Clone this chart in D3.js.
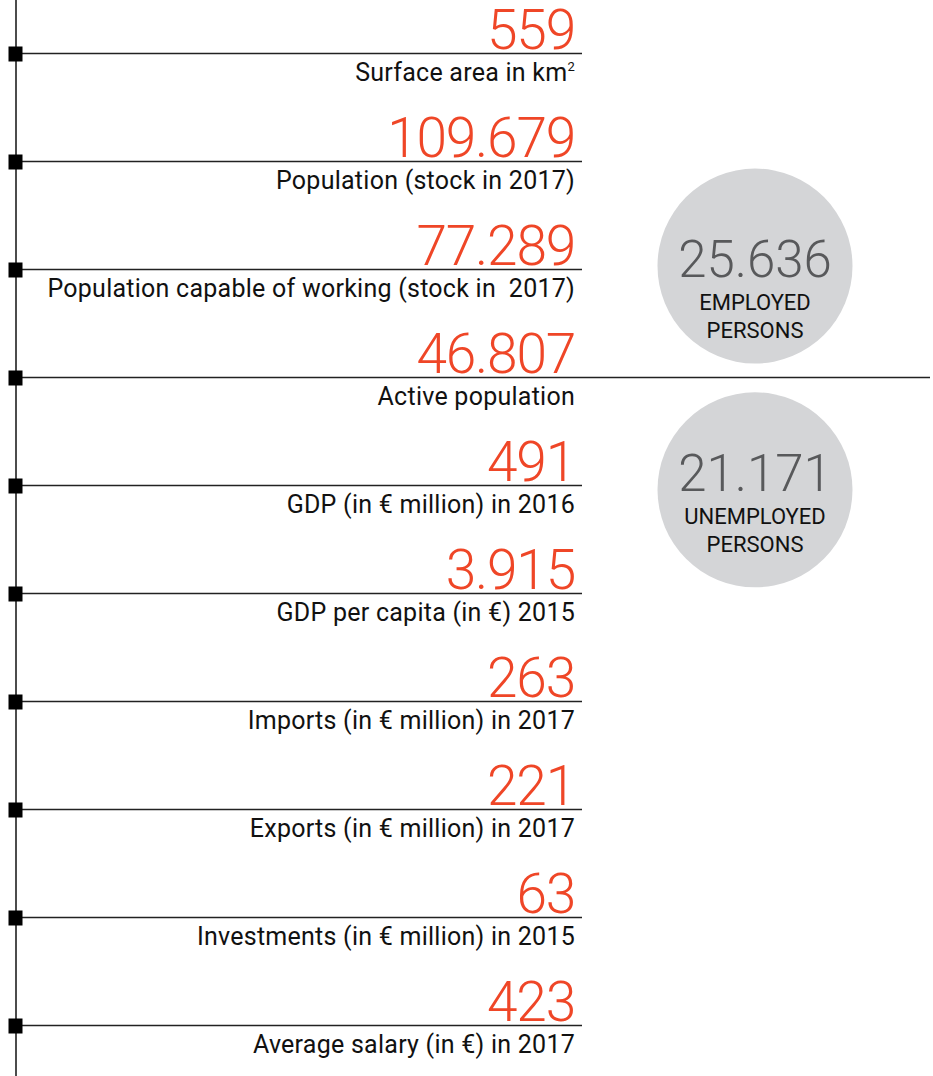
<!DOCTYPE html>
<html>
<head>
<meta charset="utf-8">
<script src="https://d3js.org/d3.v7.min.js"></script>
<style>
  html, body { margin: 0; padding: 0; background: #fff; }
  svg { display: block; }
  text { white-space: pre; }
</style>
</head>
<body>
<svg id="chart"></svg>
<script>
// data
const values = ['559', '109.679', '77.289', '46.807', '491', '3.915', '263', '221', '63', '423']
const labels = [
  'Surface area in km',
  'Population (stock in 2017)',
  'Population capable of working (stock in  2017)',
  'Active population',
  'GDP (in € million) in 2016',
  'GDP per capita (in €) 2015',
  'Imports (in € million) in 2017',
  'Exports (in € million) in 2017',
  'Investments (in € million) in 2015',
  'Average salary (in €) in 2017'
]
const bubbleValues = ['25.636', '21.171']
const bubbleLines = [['EMPLOYED', 'PERSONS'], ['UNEMPLOYED', 'PERSONS']]
const bubbleAt = [1.968, 4.04]   // centre, in row index units
const bubbleTextShift = [0, -10]

// draw
const width = 933
const height = 1076
const font = 'Roboto, sans-serif'
const red = '#ef4627'

const svg = d3.select('#chart').attr('width', width).attr('height', height)
const g = svg.append('g')

const y = d3.scaleLinear().domain([0, labels.length - 1]).range([53.5, 1025.5])
const textRight = 575
const lineEnd = 582

// spine
g.append('line')
  .attr('x1', 16).attr('x2', 16).attr('y1', 0).attr('y2', height)
  .attr('stroke', '#111').attr('stroke-width', 1.5)

let rows = g.selectAll('.row').data(labels)
  .enter().append('g').attr('class', 'row')
  .attr('transform', (d, i) => 'translate(0,' + y(i) + ')')

rows.append('line')
  .attr('x1', 16).attr('y1', 0).attr('y2', 0)
  .attr('x2', (d) => d === 'Active population' ? 930 : lineEnd)
  .attr('stroke', '#222').attr('stroke-width', 1.5)

rows.append('rect')
  .attr('x', 8.5).attr('y', -7).attr('width', 14).attr('height', 15)
  .attr('fill', '#000')

rows.append('text')
  .text((d, i) => values[i])
  .attr('x', textRight).attr('y', -5)
  .attr('text-anchor', 'end')
  .attr('font-family', font).attr('font-weight', 300)
  .attr('font-size', 55).attr('fill', red)
  .attr('letter-spacing', -1.2)

let lab = rows.append('text')
  .attr('x', textRight).attr('y', 27.5)
  .attr('text-anchor', 'end')
  .attr('font-family', font).attr('font-weight', 400)
  .attr('font-size', 25).attr('fill', '#111')
  .attr('letter-spacing', 0.25)
lab.append('tspan').text((d) => d)
lab.filter((d, i) => i === 0).append('tspan')
  .text('2').attr('font-size', 13).attr('dy', -10)

// bubbles
let bubbles = g.selectAll('.bubble').data(bubbleValues)
  .enter().append('g').attr('class', 'bubble')
  .attr('transform', (d, i) => 'translate(755,' + y(bubbleAt[i]) + ')')

bubbles.append('circle').attr('r', 97.5).attr('fill', '#d4d5d7')

bubbles.append('text')
  .text((d) => d)
  .attr('text-anchor', 'middle').attr('y', (d, i) => 11 + bubbleTextShift[i])
  .attr('font-family', font).attr('font-weight', 300)
  .attr('font-size', 51).attr('fill', '#58595b')

bubbles.each(function (d, i) {
  d3.select(this).selectAll('.sub').data(bubbleLines[i])
    .enter().append('text').attr('class', 'sub')
    .text((t) => t)
    .attr('text-anchor', 'middle')
    .attr('y', (t, j) => 44 + j * 28 + bubbleTextShift[i])
    .attr('font-family', font).attr('font-size', 22).attr('fill', '#111')
})
</script>
</body>
</html>
